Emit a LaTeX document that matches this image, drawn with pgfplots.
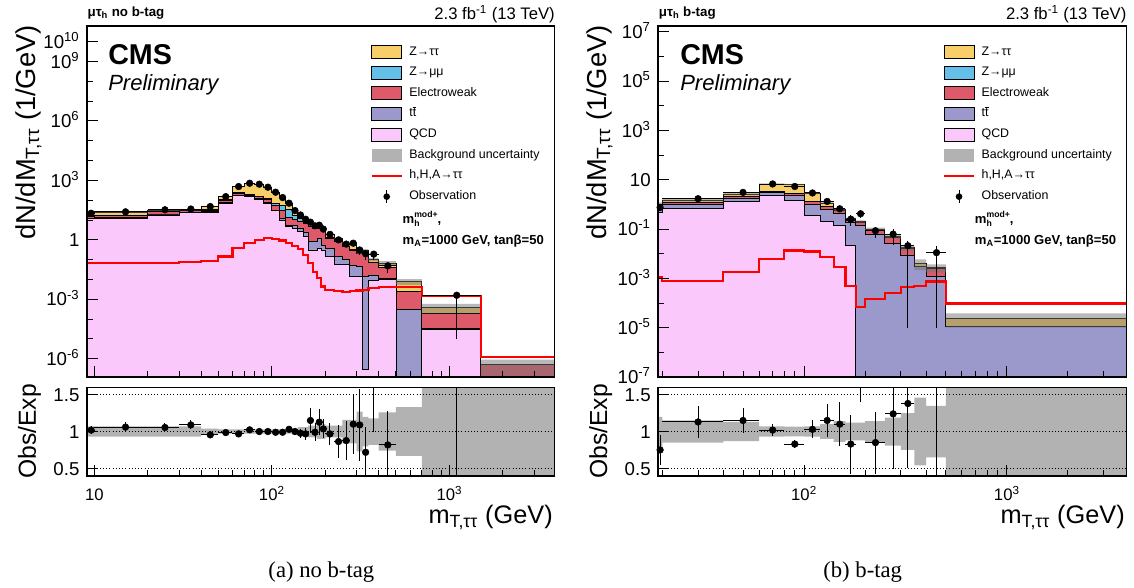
\documentclass[border=0pt]{standalone}
\usepackage{fontspec}
\setmainfont{Liberation Sans}
\newfontfamily\seriffont{Liberation Serif}
\usepackage{pgfplots}
\usepackage{pgfplotstable}
\pgfplotsset{compat=1.18}

\definecolor{ztt}{RGB}{248,206,104}
\definecolor{zmm}{RGB}{100,192,232}
\definecolor{ewk}{RGB}{222,90,106}
\definecolor{ttc}{RGB}{155,152,204}
\definecolor{qcd}{RGB}{250,200,250}

\pgfplotstableread{
x c1 c2 c3 c4 c5 sig
9.1 1e-9 1e-9 1e-9 1e-9 1e-9 1e-9
9.1 12 12.5 16 17 21.6 0.066
10 12.4 13 17 18 24.5 0.066
20 18 19 27 28 31 0.066
30 24 25 30 31 33 0.075
40 25 26 32 33 50 0.087
50 71 74 100 104 154 0.144
60 166 175 215 235 506 0.38
70 152 160 180 188 704 0.68
80 113 118 150 158 645 1.0
90 71 75 113 128 455 1.2
100 29 31 52 71 257 1.12
110 10 12.4 32 52 137 0.93
120 4.7 5.5 14 35 69 0.68
130 3.9 5.1 11 18 30 0.5
140 2.6 4.0 9 11.5 18.4 0.34
150 1.5 2.5 7 8 11.4 0.175
160 0.31 0.82 4.7 5.0 6.8 0.067
170 0.31 0.82 3.9 4.1 5.15 0.025
180 0.35 1.2 3.8 4.0 4.9 0.0117
190 0.31 0.5 2.6 2.7 3.4 0.0044
200 0.144 0.38 1.2 1.3 1.96 0.003
225 0.055 0.144 0.82 0.85 1.16 0.0025
250 0.055 0.1 0.46 0.48 0.7 0.0023
275 0.014 0.049 0.31 0.33 0.62 0.0027
300 0.014 0.045 0.2 0.21 0.26 0.0028
325 3e-7 0.014 0.21 0.22 0.28 0.003
350 0.009 0.017 0.07 0.072 0.1 0.0037
400 0.0096 0.011 0.04 0.041 0.067 0.0041
500 1e-9 3.2e-4 0.0025 0.0025 0.0079 0.0041
700 2.9e-5 3.5e-5 1.86e-4 1.9e-4 3.9e-4 0.0015
1500 1e-9 1e-9 5e-7 5e-7 5e-7 1.17e-6
3900 1e-9 1e-9 5e-7 5e-7 5e-7 1.17e-6
3900 1e-9 1e-9 1e-9 1e-9 1e-9 1.17e-6
}\ltab

\pgfplotstableread{
x y
9.1 23.1
10 26.2
20 33.2
30 35.3
40 52
50 158.6
60 521
70 725
80 664
90 469
100 265
110 141
120 71.1
130 31.2
140 19.5
150 12.1
160 7.34
170 5.56
180 5.39
190 3.74
200 2.12
225 1.25
250 0.81
275 0.72
300 0.33
325 0.336
350 0.118
400 0.084
500 0.0105
700 5.9e-4
1500 9e-7
3900 9e-7
3900 1e-7
1500 1.95e-4
700 0.0053
500 0.05
400 0.082
350 0.224
325 0.19
300 0.52
275 0.59
250 1.07
225 1.80
200 3.06
190 4.41
180 4.74
170 6.26
160 10.7
150 17.3
140 28.8
130 66.9
120 133
110 249
100 441
90 626
80 683
70 491
60 149.4
50 48
40 30.7
30 28.8
20 22.8
10 20.1
9.1 20.1
}\lband

\pgfplotstableread{
x c1 c2 c3 c4 c5 sig
19 1e-9 1e-9 1e-9 1e-9 1e-9 1e-9
19 0.45 0.75 0.8 0.8 1.0 1.17e-3
20 0.71 1.03 1.19 1.2 1.5 8.1e-4
40 1.31 1.8 2.1 2.12 2.65 1.86e-3
60 2.24 3.05 3.3 3.35 6.6 6.2e-3
80 1.45 2.24 2.7 2.75 6.4 0.0135
100 0.35 0.96 1.31 1.35 2.8 0.0123
120 0.2 0.6 0.82 0.85 1.14 0.0076
140 0.134 0.42 0.56 0.57 0.6 0.003
160 0.021 0.18 0.22 0.22 0.26 5e-4
180 1e-9 0.134 0.185 0.19 0.2 6.8e-5
200 1e-9 0.063 0.093 0.095 0.1 1.4e-4
250 1e-9 0.025 0.047 0.048 0.05 2.5e-4
300 1e-9 0.0089 0.017 0.0172 0.0175 4.4e-4
350 1e-9 0.003 0.0031 0.0031 0.004 4.9e-4
400 1e-9 0.00117 0.0026 0.0026 0.0027 7.4e-4
500 1e-9 1.1e-5 1.12e-5 1.12e-5 2.4e-5 9.6e-5
3900 1e-9 1.1e-5 1.12e-5 1.12e-5 2.4e-5 9.6e-5
3900 1e-9 1e-9 1e-9 1e-9 1e-9 9.6e-5
}\rtab

\pgfplotstableread{
x y
19 1.2
20 1.725
40 2.99
60 7.06
80 6.82
100 3.0
120 1.25
140 0.684
160 0.291
180 0.224
200 0.114
250 0.0595
300 0.0219
350 0.00584
400 0.00365
500 3.8e-5
3900 3.8e-5
3900 1.0e-5
500 0.00176
400 0.00216
350 0.0131
300 0.0405
250 0.086
200 0.176
180 0.229
160 0.516
140 1.03
120 2.6
100 5.98
80 6.14
60 2.31
40 1.275
20 0.8
19 0.8
}\rband

\pgfplotstableread{
x y
9.1 1.07
10 1.07
20 1.07
30 1.07
40 1.04
50 1.03
60 1.03
70 1.03
80 1.03
90 1.03
100 1.03
110 1.03
120 1.03
130 1.04
140 1.06
150 1.06
160 1.08
170 1.08
180 1.1
190 1.1
200 1.08
225 1.08
250 1.16
275 1.16
300 1.27
325 1.2
350 1.18
400 1.26
500 1.33
700 2
1500 2
3900 2
3900 0
1500 0
700 0.67
500 0.74
400 0.82
350 0.8
325 0.73
300 0.84
275 0.84
250 0.92
225 0.92
200 0.9
190 0.9
180 0.92
170 0.92
160 0.94
150 0.94
140 0.96
130 0.97
120 0.97
110 0.97
100 0.97
90 0.97
80 0.97
70 0.97
60 0.97
50 0.96
40 0.93
30 0.93
20 0.93
10 0.93
9.1 0.93
}\lrat

\pgfplotstableread{
x y
19 1.2
20 1.15
40 1.13
60 1.07
80 1.065
100 1.07
120 1.1
140 1.14
160 1.12
180 1.12
200 1.14
250 1.19
300 1.25
350 1.46
400 1.35
500 2
3900 2
3900 0
500 0.65
400 0.54
350 0.75
300 0.81
250 0.86
200 0.88
180 0.88
160 0.86
140 0.9
120 0.93
100 0.935
80 0.93
60 0.87
40 0.85
20 0.75
19 0.75
}\rrat

\newcommand\scr{\fontsize{6.5}{7}\selectfont\bfseries}
\newcommand\legtext[4]{%
\node[anchor=west, inner sep=0pt, font=\fontsize{9.3}{11}\selectfont, text height=7pt, text depth=2.5pt] at (#2,#3) {#4};}
\newcommand\legbox[3]{%
\draw[fill=#3, draw=black, line width=0.6pt] (#1,#2-4.9pt) rectangle (#1+22.5pt,#2+4.9pt);}
\newcommand\cmslegendat[2]{%
\legbox{#1}{-39.2pt}{ztt}\legtext{#1}{#2}{-39.2pt}{Z→ττ}
\legbox{#1}{-54.5pt}{zmm}\legtext{#1}{#2}{-54.5pt}{Z→μμ}
\legbox{#1}{-70pt}{ewk}\legtext{#1}{#2}{-70pt}{Electroweak}
\legbox{#1}{-85.5pt}{ttc}\legtext{#1}{#2}{-85.5pt}{t$\overline{\hbox{t}}$}
\legbox{#1}{-101.2pt}{qcd}\legtext{#1}{#2}{-101.2pt}{QCD}
\fill[black!30] (#1,-116.8pt-4.9pt) rectangle (#1+22.5pt,-116.8pt+4.9pt);\legtext{#1}{#2}{-116.8pt}{Background uncertainty}
\draw[red, line width=1.6pt] (#1,-132pt) -- (#1+22.5pt,-132pt);\legtext{#1}{#2}{-132pt}{h,H,A→ττ}
\draw[black, line width=0.7pt] (#1+11.25pt,-147.5pt-4.7pt) -- (#1+11.25pt,-147.5pt+4.7pt);
\fill[black] (#1+11.25pt,-147.5pt) circle (2.5pt);\legtext{#1}{#2}{-147.5pt}{Observation}
\node[anchor=base west, inner sep=0pt, font=\fontsize{9.8}{11}\selectfont\bfseries] at (#2-5pt,-167.3pt)
  {m\rlap{\raisebox{4.4pt}{\scr mod+}}\rlap{\raisebox{-2.4pt}{\scr h}}\hphantom{\scr mod+},};
\node[anchor=base west, inner sep=0pt, font=\fontsize{9.8}{11}\selectfont\bfseries] at (#2-5pt,-183pt)
  {m\textsubscript{A}=1000 GeV, tanβ=50};
}

\begin{document}
\begin{tikzpicture}
\path (0pt,0pt) rectangle (850.5pt,-441pt);

% ================= LEFT MAIN =================
\begin{axis}[at={(65.25pt,-19.5pt)}, anchor=north west,
  scale only axis, width=350.5pt, height=263.25pt,
  xmode=log, ymode=log, xmin=9.1, xmax=3900, ymin=1.2e-7, ymax=6.2e10,
  axis on top, tick align=inside, xtick pos=lower, ytick pos=left,
  axis line style={line width=1.2pt}, tick style={black, line width=0.7pt},
  major tick length=8pt, minor tick length=4.5pt,
  tick label style={font=\fontsize{14}{16}\selectfont},
  yticklabel style={anchor=base east, inner sep=0pt, xshift=-5.5pt, yshift=-5pt},
  xtick={10,100,1000}, xticklabels={,,},
  minor xtick={20,30,40,50,60,70,80,90,200,300,400,500,600,700,800,900,2000,3000},
  ytick={1e-6,1e-3,1,1e3,1e6,1e9,1e10},
  yticklabels={10\textsuperscript{-6},10\textsuperscript{-3},1,10\textsuperscript{3},10\textsuperscript{6},10\textsuperscript{9},10\textsuperscript{10}},
  minor ytick={1e-5,1e-4,1e-2,1e-1,10,100,1e4,1e5,1e7,1e8}]
\addplot[const plot, draw=black, line width=0.6pt, fill=ztt] table[x=x,y=c5]{\ltab};
\addplot[const plot, draw=black, line width=0.6pt, fill=zmm] table[x=x,y=c4]{\ltab};
\addplot[const plot, draw=black, line width=0.6pt, fill=ewk] table[x=x,y=c3]{\ltab};
\addplot[const plot, draw=black, line width=0.6pt, fill=ttc] table[x=x,y=c2]{\ltab};
\addplot[const plot, draw=black, line width=0.6pt, fill=qcd] table[x=x,y=c1]{\ltab};
\addplot[const plot, fill=black!55, fill opacity=0.5, draw=none] table[x=x,y=y]{\lband};
\addplot[const plot, red, line width=1.6pt] table[x=x,y=sig]{\ltab};
\addplot[only marks, mark=*, mark size=2.5pt, black,
  error bars/x dir=both, error bars/x explicit, error bars/y dir=both, error bars/y explicit,
  error bars/error mark=none, error bars/error bar style={line width=0.7pt, black}]
coordinates {
(9.6,22) +- (0.5,1.1)
(15,26) +- (5,1.8)
(25,33) +- (5,2)
(35,36) +- (5,2)
(45,48) +- (5,1.5)
(55,152) +- (5,3)
(65,490) +- (5,8)
(75,720) +- (5,10)
(85,645) +- (5,10)
(95,455) +- (5,8)
(105,254) +- (5,6)
(115,136) +- (5,4)
(125,71) +- (5,3)
(135,30) +- (5,1.5)
(145,18) +- (5,1.2)
(155,11) +- (5,0.9)
(165,7.8) +- (5,1.0)
(175,5.1) +- (5,0.6)
(185,5.5) +- (5,0.9)
(195,3.5) +- (5,0.45)
(212.5,1.9) +- (12.5,0.3)
(237.5,1.0) +- (12.5,0.23)
(262.5,0.61) +- (12.5,0.19)
(287.5,0.68) +- (12.5,0.25)
(312.5,0.31) +- (12.5,0.14)
(337.5,0.2) +- (12.5,0.1)
(375,0.19) +- (25,0.09)
(450,0.049) +- (50,0.027)
(1100,0.0016) += (400,0.0004) -= (400,0.00159)
};
\end{axis}

% ================= LEFT RATIO =================
\begin{axis}[at={(65.25pt,-290.5pt)}, anchor=north west,
  scale only axis, width=350.5pt, height=66.3pt,
  xmode=log, xmin=9.1, xmax=3900, ymin=0.4, ymax=1.6,
  axis on top, tick align=inside, xtick pos=lower, ytick pos=left,
  axis line style={line width=1.2pt}, tick style={black, line width=0.7pt},
  major tick length=8pt, minor tick length=4.5pt,
  yticklabel style={font=\fontsize{14}{16}\selectfont, anchor=base east, inner sep=0pt, xshift=-5.5pt, yshift=-5pt},
  xticklabel style={font=\fontsize{12.5}{14}\selectfont, anchor=base, inner sep=0pt, yshift=-18.3pt},
  xtick={10,100,1000}, xticklabels={10,10\textsuperscript{2},10\textsuperscript{3}},
  minor xtick={20,30,40,50,60,70,80,90,200,300,400,500,600,700,800,900,2000,3000},
  ytick={0.5,1,1.5}, yticklabels={0.5,1,1.5},
  ymajorgrids, major grid style={dotted, black, line width=0.7pt}]
\addplot[const plot, fill=black!30, draw=none] table[x=x,y=y]{\lrat};
\addplot[only marks, mark=*, mark size=2.5pt, black,
  error bars/x dir=both, error bars/x explicit, error bars/y dir=both, error bars/y explicit,
  error bars/error mark=none, error bars/error bar style={line width=0.7pt, black}]
coordinates {
(9.6,1.02) +- (0.5,0.05)
(15,1.06) +- (5,0.07)
(25,1.055) +- (5,0.06)
(35,1.09) +- (5,0.06)
(45,0.955) +- (5,0.03)
(55,0.986) +- (5,0.025)
(65,0.968) +- (5,0.02)
(75,1.023) +- (5,0.02)
(85,1.0) +- (5,0.02)
(95,1.0) +- (5,0.02)
(105,0.99) +- (5,0.025)
(115,0.99) +- (5,0.03)
(125,1.03) +- (5,0.04)
(135,1.0) +- (5,0.05)
(145,0.977) +- (5,0.06)
(155,0.968) +- (5,0.08)
(165,1.15) +- (5,0.17)
(175,0.99) +- (5,0.12)
(185,1.127) +- (5,0.18)
(195,1.036) +- (5,0.13)
(212.5,0.968) +- (12.5,0.15)
(237.5,0.864) +- (12.5,0.22)
(262.5,0.877) +- (12.5,0.27)
(287.5,1.1) +- (12.5,0.41)
(312.5,1.09) +- (12.5,0.49)
(337.5,0.718) +- (12.5,0.34)
(375,1.9) +- (25,0.9)
(450,0.818) +- (50,0.46)
(1100,4.1) +- (400,4.0)
};
\end{axis}

% ================= RIGHT MAIN =================
\begin{axis}[at={(493.7pt,-19.5pt)}, anchor=north west,
  scale only axis, width=351.3pt, height=263.25pt,
  xmode=log, ymode=log, xmin=19.1, xmax=3900, ymin=1e-7, ymax=1.7e7,
  axis on top, tick align=inside, xtick pos=lower, ytick pos=left,
  axis line style={line width=1.2pt}, tick style={black, line width=0.7pt},
  major tick length=8pt, minor tick length=4.5pt,
  tick label style={font=\fontsize{14}{16}\selectfont},
  yticklabel style={anchor=base east, inner sep=0pt, xshift=-5.5pt, yshift=-5pt},
  xtick={100,1000}, xticklabels={,},
  minor xtick={20,30,40,50,60,70,80,90,200,300,400,500,600,700,800,900,2000,3000},
  ytick={1e-7,1e-5,1e-3,1e-1,10,1e3,1e5,1e7},
  yticklabels={10\textsuperscript{-7},10\textsuperscript{-5},10\textsuperscript{-3},10\textsuperscript{-1},10,10\textsuperscript{3},10\textsuperscript{5},10\textsuperscript{7}},
  minor ytick={1e-6,1e-4,1e-2,1,100,1e4,1e6}]
\addplot[const plot, draw=black, line width=0.6pt, fill=ztt] table[x=x,y=c5]{\rtab};
\addplot[const plot, draw=black, line width=0.6pt, fill=zmm] table[x=x,y=c4]{\rtab};
\addplot[const plot, draw=black, line width=0.6pt, fill=ewk] table[x=x,y=c3]{\rtab};
\addplot[const plot, draw=black, line width=0.6pt, fill=ttc] table[x=x,y=c2]{\rtab};
\addplot[const plot, draw=black, line width=0.6pt, fill=qcd] table[x=x,y=c1]{\rtab};
\addplot[const plot, fill=black!55, fill opacity=0.5, draw=none] table[x=x,y=y]{\rband};
\addplot[const plot, red, line width=1.6pt] table[x=x,y=sig]{\rtab};
\addplot[only marks, mark=*, mark size=2.5pt, black,
  error bars/x dir=both, error bars/x explicit, error bars/y dir=both, error bars/y explicit,
  error bars/error mark=none, error bars/error bar style={line width=0.7pt, black}]
coordinates {
(19.5,0.75) +- (0.4,0.2)
(30,1.69) +- (10,0.3)
(50,3.05) +- (10,0.4)
(70,6.7) +- (10,0.55)
(90,5.3) +- (10,0.45)
(110,2.9) +- (10,0.35)
(130,1.31) +- (10,0.25)
(150,0.66) +- (10,0.18)
(170,0.25) +- (10,0.12)
(190,0.415) +- (10,0.14)
(225,0.085) +- (25,0.04)
(275,0.062) +- (25,0.04)
(325,0.021) += (25,0.012) -= (25,0.02099)
(450,0.011) += (50,0.01) -= (50,0.01099)
};
\end{axis}

% ================= RIGHT RATIO =================
\begin{axis}[at={(493.7pt,-290.5pt)}, anchor=north west,
  scale only axis, width=351.3pt, height=66.3pt,
  xmode=log, xmin=19.1, xmax=3900, ymin=0.4, ymax=1.6,
  axis on top, tick align=inside, xtick pos=lower, ytick pos=left,
  axis line style={line width=1.2pt}, tick style={black, line width=0.7pt},
  major tick length=8pt, minor tick length=4.5pt,
  yticklabel style={font=\fontsize{14}{16}\selectfont, anchor=base east, inner sep=0pt, xshift=-5.5pt, yshift=-5pt},
  xticklabel style={font=\fontsize{12.5}{14}\selectfont, anchor=base, inner sep=0pt, yshift=-18.3pt},
  xtick={100,1000}, xticklabels={10\textsuperscript{2},10\textsuperscript{3}},
  minor xtick={20,30,40,50,60,70,80,90,200,300,400,500,600,700,800,900,2000,3000},
  ytick={0.5,1,1.5}, yticklabels={0.5,1,1.5},
  ymajorgrids, major grid style={dotted, black, line width=0.7pt}]
\addplot[const plot, fill=black!30, draw=none] table[x=x,y=y]{\rrat};
\addplot[only marks, mark=*, mark size=2.5pt, black,
  error bars/x dir=both, error bars/x explicit, error bars/y dir=both, error bars/y explicit,
  error bars/error mark=none, error bars/error bar style={line width=0.7pt, black}]
coordinates {
(19.5,0.75) +- (0.4,0.2)
(30,1.13) +- (10,0.22)
(50,1.15) +- (10,0.17)
(70,1.02) +- (10,0.08)
(90,0.83) +- (10,0.06)
(110,1.03) +- (10,0.12)
(130,1.15) +- (10,0.22)
(150,1.1) +- (10,0.3)
(170,0.83) +- (10,0.4)
(190,2.1) +- (10,0.7)
(225,0.85) +- (25,0.42)
(275,1.24) +- (25,0.75)
(325,1.38) +- (25,0.88)
(450,4.1) +- (50,4.0)
};
\end{axis}

% ================= LEGENDS AND TEXT =================
\cmslegendat{278.8pt}{306.8pt}
\cmslegendat{708pt}{736pt}
\begin{scope}[every node/.style={inner sep=0pt}]
\node[anchor=base west, font=\fontsize{10}{12}\selectfont\bfseries] at (65.5pt,-12.5pt) {μτ\textsubscript{h} no b-tag};
\node[anchor=base west, font=\fontsize{10}{12}\selectfont\bfseries] at (494pt,-12.5pt) {μτ\textsubscript{h} b-tag};
\node[anchor=base east, font=\fontsize{12.5}{14}\selectfont] at (416.25pt,-14.6pt) {2.3 fb\textsuperscript{-1} (13 TeV)};
\node[anchor=base east, font=\fontsize{12.5}{14}\selectfont] at (845pt,-14.6pt) {2.3 fb\textsuperscript{-1} (13 TeV)};
\node[anchor=base west, font=\fontsize{21.5}{24}\selectfont\bfseries] at (81pt,-48.75pt) {CMS};
\node[anchor=base west, font=\fontsize{21.5}{24}\selectfont\bfseries] at (510pt,-48.75pt) {CMS};
\node[anchor=base west, font=\fontsize{16.5}{18}\selectfont\itshape] at (81pt,-68pt) {Preliminary};
\node[anchor=base west, font=\fontsize{16.5}{18}\selectfont\itshape] at (510pt,-68pt) {Preliminary};
\node[rotate=90, anchor=base east, font=\fontsize{20.5}{22}\selectfont] at (26.25pt,-18.75pt) {dN/dM\textsubscript{T,ττ} (1/GeV)};
\node[rotate=90, anchor=base east, font=\fontsize{20.5}{22}\selectfont] at (454.5pt,-18.75pt) {dN/dM\textsubscript{T,ττ} (1/GeV)};
\node[rotate=90, anchor=base, font=\fontsize{18.5}{20}\selectfont] at (27pt,-323.6pt) {Obs/Exp};
\node[rotate=90, anchor=base, font=\fontsize{18.5}{20}\selectfont] at (455.25pt,-323.6pt) {Obs/Exp};
\node[anchor=base east, font=\fontsize{19}{21}\selectfont] at (414.75pt,-392.3pt) {m\textsubscript{T,ττ} (GeV)};
\node[anchor=base east, font=\fontsize{19}{21}\selectfont] at (843.75pt,-392.3pt) {m\textsubscript{T,ττ} (GeV)};
\node[anchor=base, font=\fontsize{17}{19}\seriffont] at (241pt,-432.75pt) {(a) no b-tag};
\node[anchor=base, font=\fontsize{17}{19}\seriffont] at (647pt,-432.75pt) {(b) b-tag};
\end{scope}
\end{tikzpicture}
\end{document}
